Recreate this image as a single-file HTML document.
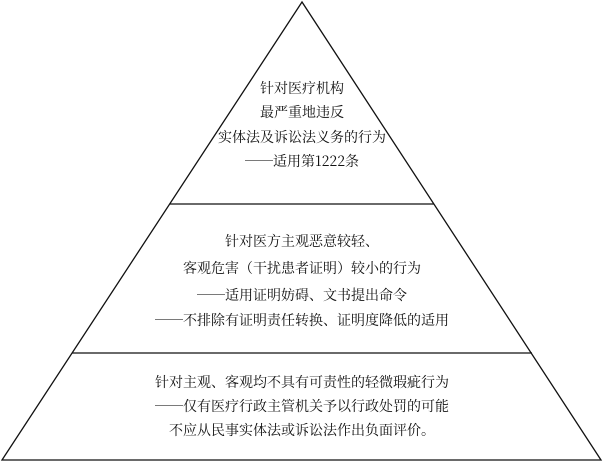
<!DOCTYPE html>
<html><head><meta charset="utf-8"><style>
html,body{margin:0;padding:0;background:#fff;}
svg{display:block}
text{font-family:"Noto Serif CJK SC","Liberation Serif",serif;font-size:14px;fill:#111;text-anchor:middle;dominant-baseline:central}
</style></head><body>
<svg width="603" height="463" viewBox="0 0 603 463">
<polygon points="302,2 2,460 601,460" fill="#fff" stroke="#111" stroke-width="1.3"/>
<line x1="170" y1="204" x2="434" y2="204" stroke="#111" stroke-width="1.3"/>
<line x1="72" y1="353" x2="532" y2="353" stroke="#111" stroke-width="1.3"/>
<text x="302" y="88">针对医疗机构</text>
<text x="302" y="112">最严重地违反</text>
<text x="302" y="137">实体法及诉讼法义务的行为</text>
<text x="302" y="161">──适用第1222条</text>
<text x="302" y="241">针对医方主观恶意较轻、</text>
<text x="302" y="268">客观危害（干扰患者证明）较小的行为</text>
<text x="302" y="295">──适用证明妨碍、文书提出命令</text>
<text x="302" y="320">──不排除有证明责任转换、证明度降低的适用</text>
<text x="302" y="382">针对主观、客观均不具有可责性的轻微瑕疵行为</text>
<text x="302" y="406">──仅有医疗行政主管机关予以行政处罚的可能</text>
<text x="302" y="430">不应从民事实体法或诉讼法作出负面评价。</text>
</svg>
</body></html>
